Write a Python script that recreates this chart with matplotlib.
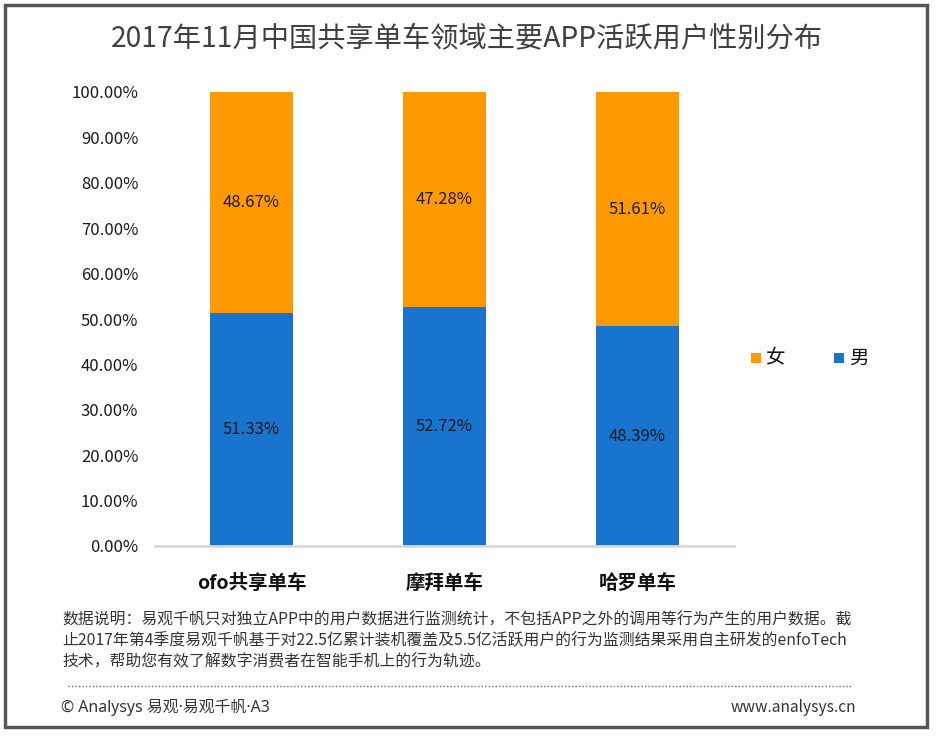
import matplotlib
matplotlib.use("Agg")
import matplotlib.pyplot as plt
from matplotlib.patches import Rectangle
from matplotlib.lines import Line2D

plt.rcParams['font.family'] = ['Noto Sans CJK SC', 'DejaVu Sans']

title = "2017年11月中国共享单车领域主要APP活跃用户性别分布"
categories = ["ofo共享单车", "摩拜单车", "哈罗单车"]
male = [51.33, 52.72, 48.39]
female = [48.67, 47.28, 51.61]
series_names = ["女", "男"]
yticks = [0, 10, 20, 30, 40, 50, 60, 70, 80, 90, 100]
note = ("数据说明：易观千帆只对独立APP中的用户数据进行监测统计，不包括APP之外的调用等行为产生的用户数据。截\n"
        "止2017年第4季度易观千帆基于对22.5亿累计装机覆盖及5.5亿活跃用户的行为监测结果采用自主研发的enfoTech\n"
        "技术，帮助您有效了解数字消费者在智能手机上的行为轨迹。")
footer_left = "© Analysys 易观·易观千帆·A3"
footer_right = "www.analysys.cn"

BLUE = "#1874CD"
ORANGE = "#FF9900"

fig = plt.figure(figsize=(9.36, 7.38), dpi=100)
W, H = 936, 738

def fx(px):
    return px / W

def fy(py):
    return 1 - py / H

# outer frame
fig.add_artist(Rectangle((fx(5), fy(727)), fx(922), 722 / H, transform=fig.transFigure,
                         fill=False, edgecolor="#555555", linewidth=2.5))

ax = fig.add_axes([fx(155), fy(546), fx(579), 454 / H])
x = list(range(len(categories)))
ax.bar(x, male, width=0.435, color=BLUE, zorder=2)
ax.bar(x, female, width=0.435, bottom=male, color=ORANGE, zorder=2)
for i in x:
    ax.text(i, male[i] / 2, f"{male[i]:.2f}%", ha="center", va="center", fontsize=12, color="#1a1a1a")
    ax.text(i, male[i] + female[i] / 2, f"{female[i]:.2f}%", ha="center", va="center", fontsize=12, color="#1a1a1a")

ax.set_xlim(-0.5, 2.5)
ax.set_ylim(0, 100)
ax.set_yticks(yticks)
ax.set_yticklabels([f"{v:.2f}%" for v in yticks], fontsize=12, color="#1a1a1a")
ax.set_xticks(x)
ax.set_xticklabels(categories, fontsize=14, fontweight="bold", color="#111111")
ax.tick_params(axis="y", length=0, pad=12)
ax.tick_params(axis="x", length=0, pad=20)
for s in ["top", "right", "left"]:
    ax.spines[s].set_visible(False)
ax.spines["bottom"].set_color("#D9D9D9")
ax.spines["bottom"].set_linewidth(2)

# title
fig.text(fx(467), fy(38), title, ha="center", va="center", fontsize=20.3, color="#404040")

# legend
fig.add_artist(Rectangle((fx(751), fy(363)), fx(10), 10 / H, transform=fig.transFigure,
                         facecolor=ORANGE, edgecolor="none"))
fig.text(fx(765), fy(358), series_names[0], ha="left", va="center", fontsize=14, color="#111111")
fig.add_artist(Rectangle((fx(834), fy(363)), fx(10), 10 / H, transform=fig.transFigure,
                         facecolor=BLUE, edgecolor="none"))
fig.text(fx(849), fy(358), series_names[1], ha="left", va="center", fontsize=14, color="#111111")

# note
fig.text(fx(62), fy(611), note, ha="left", va="top", fontsize=11.4, color="#333333", linespacing=1.34)

# dotted line
fig.add_artist(Line2D([fx(68), fx(852)], [fy(686), fy(686)], transform=fig.transFigure,
                      color="#666666", linestyle=(0, (1, 1.5)), linewidth=1))

fig.text(fx(61), fy(707), footer_left, ha="left", va="center", fontsize=11.4, color="#333333",
         family=["Noto Sans", "Noto Sans CJK SC", "DejaVu Sans"])
fig.text(fx(856), fy(707), footer_right, ha="right", va="center", fontsize=11.2, color="#333333")

fig.savefig("out.png", dpi=100, facecolor="white")
